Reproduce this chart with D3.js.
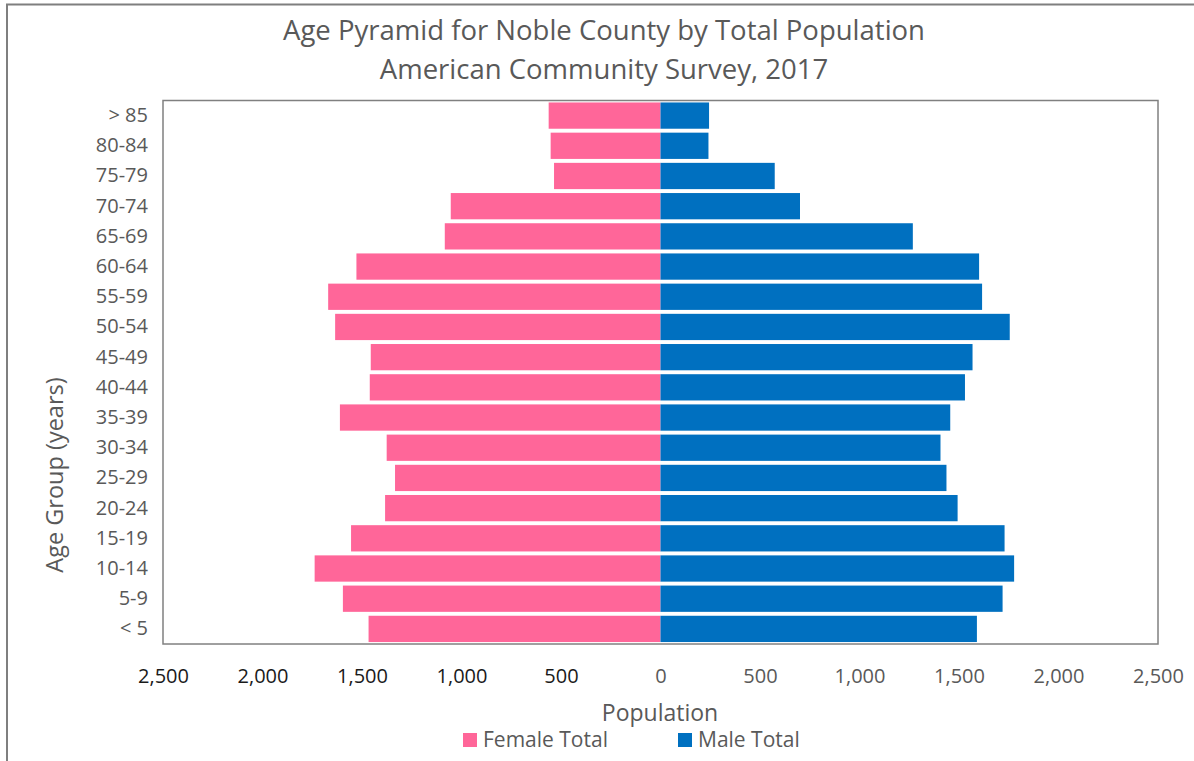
<!DOCTYPE html>
<html>
<head>
<meta charset="utf-8">
<script src="https://cdn.jsdelivr.net/npm/d3@7/dist/d3.min.js"></script>
<style>
  html, body { margin: 0; padding: 0; background: #fff; }
  svg { display: block; font-family: "Open Sans", sans-serif; }
</style>
</head>
<body>
<svg id="chart" width="1194" height="761"></svg>
<script>
const ageGroups = ["> 85","80-84","75-79","70-74","65-69","60-64","55-59","50-54","45-49","40-44","35-39","30-34","25-29","20-24","15-19","10-14","5-9","< 5"];
const femaleTotal = [562,552,535,1054,1084,1528,1670,1635,1456,1461,1611,1376,1334,1384,1555,1738,1596,1467];
const maleTotal   = [244,241,574,701,1268,1601,1616,1755,1568,1530,1456,1407,1437,1493,1729,1777,1719,1590];
const xTicks = [-2500,-2000,-1500,-1000,-500,0,500,1000,1500,2000,2500];
const titleLines = ["Age Pyramid for Noble County by Total Population", "American Community Survey, 2017"];
const seriesNames = ["Female Total", "Male Total"];
const colors = ["#FF6699", "#0070C0"];

const svg = d3.select("#chart");
const plot = {left: 163, right: 1158, top: 100.5, bottom: 644};

// outer chart border
svg.append("rect").attr("x", 7).attr("y", 4.5).attr("width", 1200).attr("height", 800)
  .attr("fill", "none").attr("stroke", "#7f7f7f").attr("stroke-width", 2);

const x = d3.scaleLinear().domain([-2500, 2500]).range([plot.left, plot.right]);
const y = d3.scaleBand().domain(ageGroups).range([plot.top, plot.bottom]).paddingInner(0.13).paddingOuter(0.065);

// title
svg.append("g").selectAll("text").data(titleLines).join("text")
  .attr("x", 604).attr("y", (d, i) => 40 + i * 39)
  .attr("text-anchor", "middle").attr("fill", "#595959")
  .style("font-size", "27.5px").text(d => d);

// bars
const rows = ageGroups.map((g, i) => ({g, f: femaleTotal[i], m: maleTotal[i]}));
svg.append("g").selectAll("rect").data(rows).join("rect")
  .attr("x", d => x(-d.f)).attr("width", d => x(0) - x(-d.f))
  .attr("y", d => y(d.g)).attr("height", y.bandwidth())
  .attr("fill", colors[0]);
svg.append("g").selectAll("rect").data(rows).join("rect")
  .attr("x", x(0)).attr("width", d => x(d.m) - x(0))
  .attr("y", d => y(d.g)).attr("height", y.bandwidth())
  .attr("fill", colors[1]);

// plot border
svg.append("rect").attr("x", plot.left).attr("y", plot.top)
  .attr("width", plot.right - plot.left).attr("height", plot.bottom - plot.top)
  .attr("fill", "none").attr("stroke", "#808080").attr("stroke-width", 1.5);

// x axis
const xAxis = d3.axisBottom(x).tickValues(xTicks).tickSize(0).tickPadding(0)
  .tickFormat(d => d3.format(",")(Math.abs(d)));
const gx = svg.append("g").attr("transform", `translate(0, ${plot.bottom})`).call(xAxis);
gx.select(".domain").remove();
gx.selectAll("text").style("font-size", "20px").style("font-family", "Open Sans")
  .attr("dy", null).attr("y", 39)
  .attr("fill", d => d < 0 ? "#1a1a1a" : "#595959");

// y axis
const yAxis = d3.axisLeft(y).tickSize(0).tickPadding(0);
const gy = svg.append("g").attr("transform", `translate(148, 0)`).call(yAxis);
gy.select(".domain").remove();
gy.selectAll("text").style("font-size", "20px").style("font-family", "Open Sans")
  .attr("fill", "#595959");

// axis titles
svg.append("text").attr("x", 660).attr("y", 721).attr("text-anchor", "middle")
  .attr("fill", "#595959").style("font-size", "23px").text("Population");
svg.append("text").attr("transform", "translate(63, 475) rotate(-90)")
  .attr("text-anchor", "middle").attr("fill", "#595959")
  .style("font-size", "23.5px").text("Age Group (years)");

// legend
const legX = [463, 678];
const leg = svg.append("g").selectAll("g").data(seriesNames).join("g")
  .attr("transform", (d, i) => `translate(${legX[i]}, 0)`);
leg.append("rect").attr("x", 0).attr("y", 733).attr("width", 14).attr("height", 14)
  .attr("fill", (d, i) => colors[i]);
leg.append("text").attr("x", 20).attr("y", 747).attr("fill", "#595959")
  .style("font-size", "21px").text(d => d);
</script>
</body>
</html>
